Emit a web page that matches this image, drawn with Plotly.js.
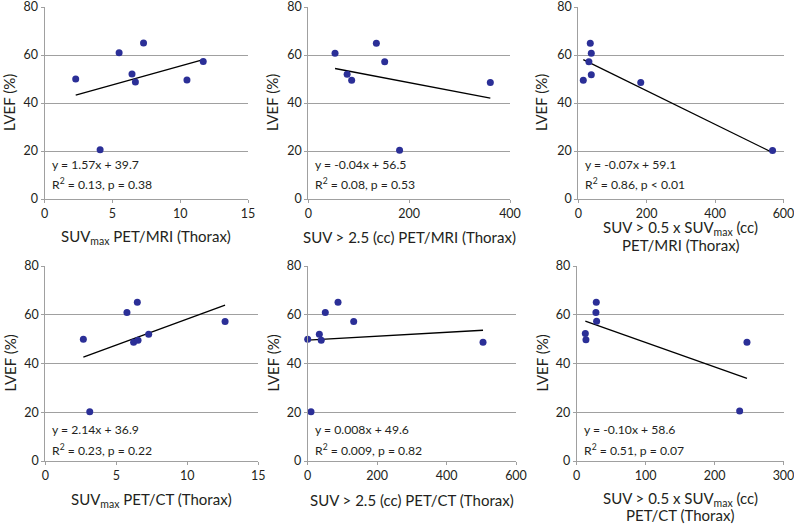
<!DOCTYPE html>
<html><head><meta charset="utf-8">
<script src="https://cdn.plot.ly/plotly-3.0.1.min.js"></script>
<style>html,body{margin:0;padding:0;background:#fff}#chart{width:794px;height:526px}</style>
</head><body><div id="chart"></div>
<script>
// LVEF (%) vs. tumour measures, six panels
const p1X = [2.3, 5.5, 7.3, 6.45, 6.7, 10.5, 11.7, 4.1];
const p1Y = [50.0, 60.9, 65.0, 52.1, 48.8, 49.6, 57.3, 20.5];
const p2X = [53, 135, 151.5, 77, 86, 361, 181];
const p2Y = [60.7, 64.9, 57.2, 52.0, 49.5, 48.5, 20.3];
const p3X = [35, 38, 31, 38, 14.6, 182.6, 568];
const p3Y = [64.9, 60.7, 57.2, 51.8, 49.5, 48.5, 20.2];
const p4X = [2.68, 5.75, 6.48, 12.66, 7.28, 6.22, 6.53, 3.13];
const p4Y = [50.0, 60.9, 65.1, 57.2, 52.0, 48.7, 49.5, 20.2];
const p5X = [0, 9.5, 33.5, 39, 50.7, 87.3, 132.5, 505];
const p5Y = [50.0, 20.2, 52.0, 49.5, 60.9, 65.1, 57.2, 48.7];
const p6X = [12.5, 13.4, 28.4, 27.9, 28.9, 236.4, 247];
const p6Y = [52.3, 49.7, 65.1, 60.9, 57.3, 20.5, 48.7];

const slopes = [1.57, -0.04, -0.07, 2.14, 0.008, -0.10];
const intercepts = [39.7, 56.5, 59.1, 36.9, 49.6, 58.6];
const eqLabels = ["y = 1.57x + 39.7", "y = -0.04x + 56.5", "y = -0.07x + 59.1",
                  "y = 2.14x + 36.9", "y = 0.008x + 49.6", "y = -0.10x + 58.6"];
const statLabels = ["R<sup>2</sup> = 0.13, p = 0.38", "R<sup>2</sup> = 0.08, p = 0.53", "R<sup>2</sup> = 0.86, p < 0.01",
                    "R<sup>2</sup> = 0.23, p = 0.22", "R<sup>2</sup> = 0.009, p = 0.82", "R<sup>2</sup> = 0.51, p = 0.07"];
const xTitles = [["SUV<sub>max</sub> PET/MRI (Thorax)"], ["SUV > 2.5 (cc) PET/MRI (Thorax)"],
                 ["SUV > 0.5 x SUV<sub>max</sub> (cc)", "PET/MRI (Thorax)"],
                 ["SUV<sub>max</sub> PET/CT (Thorax)"], ["SUV > 2.5 (cc) PET/CT (Thorax)"],
                 ["SUV > 0.5 x SUV<sub>max</sub> (cc)", "PET/CT (Thorax)"]];
const xMax = [15, 400, 600, 15, 600, 300];
const xDtick = [5, 200, 200, 5, 200, 100];
const yTitle = "LVEF (%)";
const yMax = 80;
const yDtick = 20;

const W = 794, H = 526;
// pixel boxes [left, right, top, bottom]
const boxes = [
  [44.5, 248, 7, 199], [308.3, 510, 7, 199], [578.3, 783.5, 7, 199],
  [45.3, 258.3, 266, 461], [307.7, 516, 266, 461], [576.7, 783.5, 266, 461]
];
const yTitleX = [9, 272, 541, 9, 272, 541];

const allX = [p1X, p2X, p3X, p4X, p5X, p6X];
const allY = [p1Y, p2Y, p3Y, p4Y, p5Y, p6Y];

const font = "Lato, Open Sans, sans-serif";
const ink = "#231f20";
const grey = "#a0a0a0";
const tickSize = 12.5, noteSize = 12.2, titleSize = 15;
const traces = [];
const layout = {
  width: W, height: H, margin: {l: 0, r: 0, t: 0, b: 0},
  paper_bgcolor: "#fff", plot_bgcolor: "#fff", showlegend: false,
  font: {family: font, color: ink, size: tickSize},
  annotations: []
};

for (let i = 0; i < 6; i++) {
  const n = i + 1;
  const xa = n === 1 ? "x" : "x" + n, ya = n === 1 ? "y" : "y" + n;
  const [l, r, t, b] = boxes[i];
  const xs = allX[i], ys = allY[i];
  const x0 = Math.min(...xs), x1 = Math.max(...xs);
  traces.push({
    x: [x0, x1], y: [slopes[i] * x0 + intercepts[i], slopes[i] * x1 + intercepts[i]],
    xaxis: xa, yaxis: ya, mode: "lines", line: {color: "#000", width: 1.3}, hoverinfo: "skip"
  });
  traces.push({
    x: xs, y: ys, xaxis: xa, yaxis: ya, mode: "markers", cliponaxis: false,
    marker: {color: "#2b2f97", size: 7}
  });
  layout["xaxis" + (n === 1 ? "" : n)] = {
    domain: [l / W, r / W], anchor: ya, range: [0, xMax[i]], dtick: xDtick[i], tick0: 0,
    showgrid: false, zeroline: false, showline: true, linecolor: grey, linewidth: 1,
    ticks: "outside", ticklen: 3, tickcolor: grey, tickfont: {size: tickSize, color: ink},
    ticklabeloverflow: "allow", fixedrange: true
  };
  layout["yaxis" + (n === 1 ? "" : n)] = {
    domain: [1 - b / H, 1 - t / H], anchor: xa, range: [0, yMax], dtick: yDtick, tick0: 0,
    showgrid: true, gridcolor: grey, gridwidth: 1, zeroline: false, showline: true, linecolor: grey,
    linewidth: 1, ticks: "outside", ticklen: 3, tickcolor: grey, tickfont: {size: tickSize, color: ink},
    ticklabeloverflow: "allow", fixedrange: true
  };
  // regression text
  const row2 = i >= 3;
  const eqY = row2 ? 429.5 : 164;
  const stY = row2 ? 450 : 183.7;
  layout.annotations.push({xref: "paper", yref: "paper", x: (l + 5) / W, y: 1 - eqY / H,
    xanchor: "left", yanchor: "middle", text: eqLabels[i], showarrow: false, font: {size: noteSize, color: ink}});
  layout.annotations.push({xref: "paper", yref: "paper", x: (l + 5) / W, y: 1 - stY / H,
    xanchor: "left", yanchor: "middle", text: statLabels[i], showarrow: false, font: {size: noteSize, color: ink}});
  // y title
  layout.annotations.push({xref: "paper", yref: "paper", x: yTitleX[i] / W, y: 1 - ((t + b) / 2) / H,
    xanchor: "center", yanchor: "middle", textangle: -90, text: yTitle, showarrow: false, font: {size: titleSize, color: ink}});
  // x title
  const cx = (l + r) / 2 / W;
  const lines = xTitles[i];
  if (lines.length === 1) {
    const cy = row2 ? 499.5 : 236.5;
    layout.annotations.push({xref: "paper", yref: "paper", x: cx, y: 1 - cy / H, xanchor: "center", yanchor: "middle",
      text: lines[0], showarrow: false, font: {size: titleSize, color: ink}});
  } else {
    const c1 = row2 ? 499 : 228, c2 = row2 ? 514.5 : 245;
    layout.annotations.push({xref: "paper", yref: "paper", x: cx, y: 1 - c1 / H, xanchor: "center", yanchor: "middle",
      text: lines[0], showarrow: false, font: {size: titleSize, color: ink}});
    layout.annotations.push({xref: "paper", yref: "paper", x: cx, y: 1 - c2 / H, xanchor: "center", yanchor: "middle",
      text: lines[1], showarrow: false, font: {size: titleSize, color: ink}});
  }
}

Plotly.newPlot("chart", traces, layout, {staticPlot: true, displayModeBar: false});
</script>
</body></html>
